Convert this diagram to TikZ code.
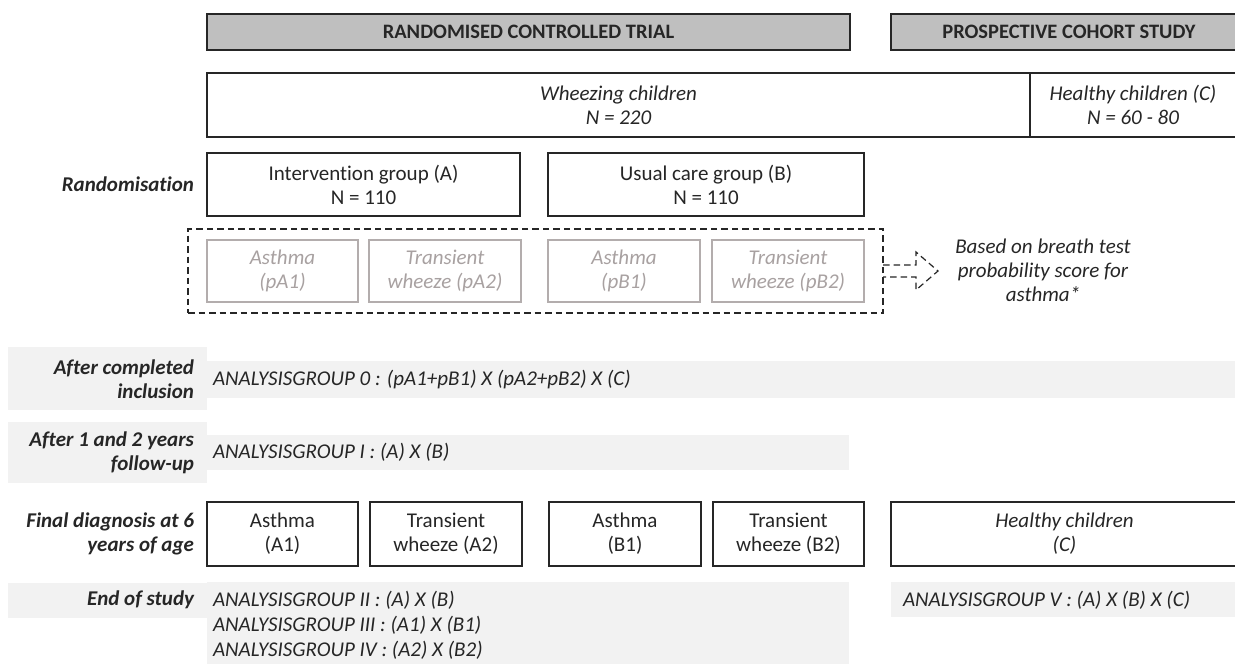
\documentclass[tikz,border=0pt]{standalone}
\usepackage{fontspec}
\setmainfont{Carlito}[Ligatures=NoCommon]
\definecolor{hdr}{HTML}{BFBFBF}
\definecolor{band}{HTML}{F2F2F2}
\definecolor{pale}{HTML}{A8A1A1}
\definecolor{paleline}{HTML}{B3ADAD}
\definecolor{ink}{HTML}{262626}
\begin{document}
\begin{tikzpicture}[x=1pt,y=-1pt,
  every node/.style={font=\fontsize{21}{24}\selectfont, text=ink, inner sep=0pt, outer sep=0pt},
  box/.style={draw=ink, line width=1.2pt, rectangle, align=center},
  hbox/.style={box, fill=hdr, font=\fontsize{20.5}{24}\selectfont\bfseries},
  pbox/.style={draw=paleline, line width=1.2pt, rectangle, align=center, text=pale, font=\fontsize{21}{24}\selectfont\itshape},
  bandbox/.style={fill=band, rectangle},
  lbl/.style={anchor=east, align=right, font=\fontsize{21}{24}\selectfont\bfseries\itshape},
  grp/.style={anchor=west, align=left, font=\fontsize{21}{25}\selectfont\itshape},
  dbox/.style={draw=ink, line width=1.2pt, dash pattern=on 6.5pt off 4pt, rectangle}
]
\clip (0,0) rectangle (1235,664);
\fill[white] (0,0) rectangle (1235,664);

% headers
\node[hbox, minimum width=643, minimum height=36] (hRCT) at (528.5,32) {RANDOMISED CONTROLLED TRIAL};
\node[hbox, minimum width=356, minimum height=36] (hPCS) at (1069,32) {PROSPECTIVE COHORT STUDY};

% population
\node[box, minimum width=823, minimum height=64, font=\fontsize{21}{24}\selectfont\itshape] (wheeze) at (618.5,105) {Wheezing children\\N = 220};
\node[box, minimum width=206, minimum height=64, font=\fontsize{21}{24}\selectfont\itshape] (healthy) at (1133,105) {Healthy children (C)\\N = 60 - 80};

% randomisation
\node[lbl] (lRand) at (194,184.5) {Randomisation};
\node[box, minimum width=313, minimum height=63] (rA) at (363.5,184.5) {Intervention group (A)\\N = 110};
\node[box, minimum width=316, minimum height=63] (rB) at (706,184.5) {Usual care group (B)\\N = 110};

% probability groups
\node[dbox, minimum width=695, minimum height=84] (dash) at (535.5,271) {};
\node[pbox, minimum width=151, minimum height=62] (pA1) at (282.5,271) {Asthma\\(pA1)};
\node[pbox, minimum width=152, minimum height=62] (pA2) at (445,271) {Transient\\wheeze (pA2)};
\node[pbox, minimum width=152, minimum height=62] (pB1) at (624,271) {Asthma\\(pB1)};
\node[pbox, minimum width=152, minimum height=62] (pB2) at (788,271) {Transient\\wheeze (pB2)};
\draw[draw=ink, line width=1.2pt, dash pattern=on 6.5pt off 4pt]
  (dash.east) ++(0,-6) -- ++(33,0) -- ++(0,-13) -- ++(22,19) -- ++(-22,19) -- ++(0,-13) -- ++(-33,0);
\node[align=center, font=\fontsize{21}{24}\selectfont\itshape] (note) at (1043,270) {Based on breath test\\probability score for\\asthma*};

% analysis group 0
\node[bandbox, minimum width=199, minimum height=63] (lb0) at (107.5,378.5) {};
\node[bandbox, minimum width=1028, minimum height=37] (ab0) at (721,379.5) {};
\node[lbl] (l0) at (194,379) {After completed\\inclusion};
\node[grp] (t0) at (213,379.5) {ANALYSISGROUP 0 : (pA1+pB1) X (pA2+pB2) X (C)};

% analysis group I
\node[bandbox, minimum width=199, minimum height=61] (lb1) at (107.5,452.5) {};
\node[bandbox, minimum width=642, minimum height=35] (ab1) at (528,452.5) {};
\node[lbl] (l1) at (194,452.5) {After 1 and 2 years\\follow-up};
\node[grp] (t1) at (213,452.5) {ANALYSISGROUP I : (A) X (B)};

% final diagnosis
\node[lbl] (lF) at (194,534) {Final diagnosis at 6\\years of age};
\node[box, minimum width=151, minimum height=64] (fA1) at (282.5,534) {Asthma\\(A1)};
\node[box, minimum width=152, minimum height=64] (fA2) at (446,534) {Transient\\wheeze (A2)};
\node[box, minimum width=152, minimum height=64] (fB1) at (625,534) {Asthma\\(B1)};
\node[box, minimum width=151, minimum height=64] (fB2) at (788.5,534) {Transient\\wheeze (B2)};
\node[box, minimum width=347, minimum height=64, font=\fontsize{21}{24}\selectfont\itshape] (fC) at (1064.5,534) {Healthy children\\(C)};

% end of study
\node[bandbox, minimum width=199, minimum height=35] (lbE) at (107.5,600.5) {};
\node[bandbox, minimum width=642, minimum height=90] (abE) at (528,627) {};
\node[bandbox, minimum width=349, minimum height=35] (abV) at (1065.5,599.5) {};
\node[lbl] (lE) at (194,600) {End of study};
\node[grp] (tE) at (213,625) {ANALYSISGROUP II : (A) X (B)\\ANALYSISGROUP III : (A1) X (B1)\\ANALYSISGROUP IV : (A2) X (B2)};
\node[grp] (tV) at (903,600) {ANALYSISGROUP V : (A) X (B) X (C)};
\end{tikzpicture}
\end{document}
